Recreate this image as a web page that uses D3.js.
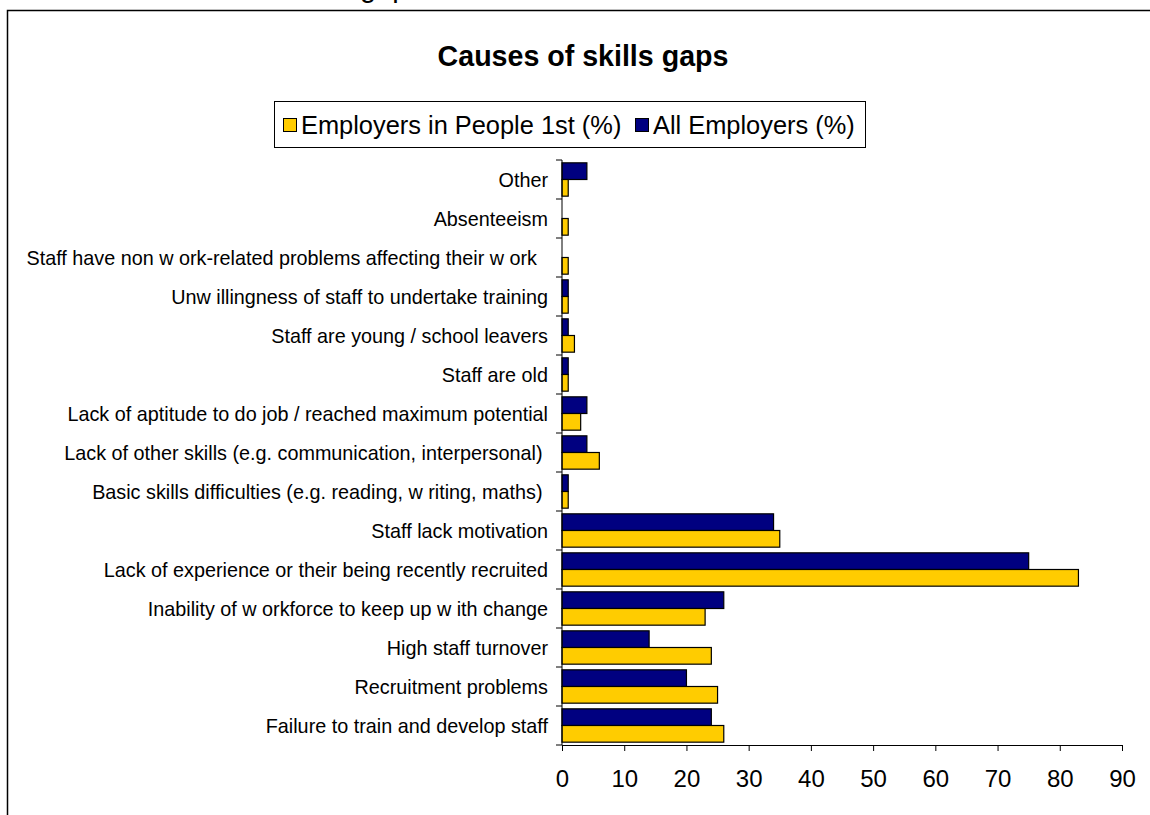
<!DOCTYPE html>
<html><head><meta charset="utf-8">
<script src="https://cdn.jsdelivr.net/npm/d3@7"></script>
<style>
html,body{margin:0;padding:0;background:#fff;}
svg text{font-family:"Liberation Sans",Arial,sans-serif;white-space:pre;}
</style></head>
<body>
<svg id="c" width="1150" height="815"></svg>
<script>
const categories = [
  "Other",
  "Absenteeism",
  "Staff have non w ork-related problems affecting their w ork  ",
  "Unw illingness of staff to undertake training",
  "Staff are young / school leavers",
  "Staff are old",
  "Lack of aptitude to do job / reached maximum potential",
  "Lack of other skills (e.g. communication, interpersonal) ",
  "Basic skills difficulties (e.g. reading, w riting, maths) ",
  "Staff lack motivation",
  "Lack of experience or their being recently recruited",
  "Inability of w orkforce to keep up w ith change",
  "High staff turnover",
  "Recruitment problems",
  "Failure to train and develop staff"
];
const allEmployers   = [4, 0, 0, 1, 1, 1, 4, 4, 1, 34, 75, 26, 14, 20, 24];
const people1st      = [1, 1, 1, 1, 2, 1, 3, 6, 1, 35, 83, 23, 24, 25, 26];
const seriesNames = ["Employers in People 1st (%)", "All Employers (%)"];
const xTicks = [0,10,20,30,40,50,60,70,80,90];
const titleText = "Causes of skills gaps";

const svg = d3.select("#c");
const YELLOW = "#FFCC00", NAVY = "#000080";

// cut-off caption at top (only its descenders show)
svg.append("text").attr("x", 423).attr("y", -3).attr("text-anchor","end")
  .attr("font-size", 29).text(titleText);

// outer frame
svg.append("path").attr("d","M7.5,815 L7.5,10.5 L1152,10.5")
  .attr("fill","none").attr("stroke","#000").attr("stroke-width",1.5);

// title
svg.append("text").attr("x", 583).attr("y", 66).attr("text-anchor","middle")
  .attr("font-size", 28.6).attr("font-weight","bold").text(titleText);

// legend
const lg = svg.append("g");
lg.append("rect").attr("x",274.5).attr("y",101.5).attr("width",591).attr("height",46)
  .attr("fill","#fff").attr("stroke","#000").attr("stroke-width",1);
const legendItems = [{name:seriesNames[0], color:YELLOW, x:283},{name:seriesNames[1], color:NAVY, x:635}];
legendItems.forEach(d=>{
  lg.append("rect").attr("x",d.x+0.5).attr("y",118.5).attr("width",13).attr("height",13)
    .attr("fill",d.color).attr("stroke","#000").attr("stroke-width",1);
  lg.append("text").attr("x",d.x+18).attr("y",134).attr("font-size",25.4).text(d.name);
});

// scales
const x = d3.scaleLinear().domain([0,90]).range([562,1122]);
const y = d3.scaleBand().domain(categories).range([160,745]);
const inner = d3.scaleBand().domain(["all","p1"]).range([0,y.bandwidth()]).paddingOuter(0.17).paddingInner(0);

const g = svg.append("g");
categories.forEach((c,i)=>{
  const rows = [{k:"all", v:allEmployers[i], col:NAVY},{k:"p1", v:people1st[i], col:YELLOW}];
  rows.forEach(r=>{
    if (r.v <= 0) return;
    g.append("rect")
      .attr("x", x(0))
      .attr("y", y(c) + inner(r.k))
      .attr("width", x(r.v) - x(0))
      .attr("height", inner.bandwidth())
      .attr("fill", r.col).attr("stroke","#000").attr("stroke-width",1.2);
  });
});

// y axis (category) with ticks at band boundaries
const ya = svg.append("g");
ya.append("line").attr("x1",x(0)).attr("x2",x(0)).attr("y1",160).attr("y2",745).attr("stroke","#000");
const bounds = categories.map(c=>y(c)).concat([y(categories[categories.length-1])+y.bandwidth()]);
bounds.forEach(b=>{
  ya.append("line").attr("x1",x(0)-6).attr("x2",x(0)).attr("y1",b).attr("y2",b).attr("stroke","#000");
});
categories.forEach(c=>{
  ya.append("text").attr("x",548).attr("y",y(c)+y.bandwidth()/2+7)
    .attr("text-anchor","end").attr("font-size",19.8).text(c);
});

// x axis
const xa = svg.append("g").attr("transform","translate(0,745)")
  .call(d3.axisBottom(x).tickValues(xTicks).tickSize(6).tickPadding(19).tickFormat(d3.format("d")));
xa.select(".domain").attr("stroke","#000");
xa.selectAll(".tick line").attr("stroke","#000");
xa.selectAll(".tick text").attr("font-size",24).attr("fill","#000")
  .attr("font-family","'Liberation Sans',Arial,sans-serif");
</script>
</body></html>
